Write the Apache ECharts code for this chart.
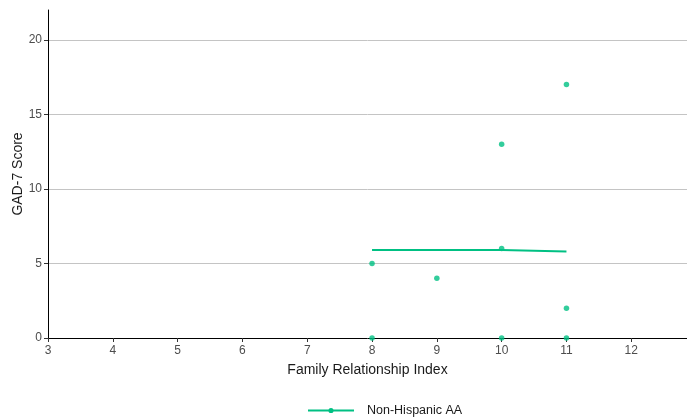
<!DOCTYPE html>
<html>
<head>
<meta charset="utf-8">
<script src="https://cdn.jsdelivr.net/npm/echarts@6/dist/echarts.min.js"></script>
<style>
  html, body { margin: 0; padding: 0; background: #fff; }
  #chart { width: 687px; height: 420px; }
</style>
</head>
<body>
<div id="chart"></div>
<script>
// Observed scores by Family Relationship Index
const pointX = [8, 8, 9, 10, 10, 10, 11, 11, 11];
const pointY = [0, 5, 4, 0, 6, 13, 0, 2, 17];
// Fitted trend segments
const fitX = [8, 10, 10, 11];
const fitY = [5.9, 5.9, 5.81, 5.81];
// Tick positions
const xTicks = [3, 4, 5, 6, 7, 8, 9, 10, 11, 12];
const yTicks = [0, 5, 10, 15, 20];
const seriesName = 'Non-Hispanic AA';
const green = '#00C083';

const chart = echarts.init(document.getElementById('chart'), null, { renderer: 'canvas' });
const font = 'Liberation Sans, Arial, sans-serif';

chart.setOption({
  animation: false,
  grid: { left: 48, right: 0, top: 10, bottom: 82, containLabel: false, outerBoundsMode: 'none' },
  legend: {
    top: 399,
    left: 303,
    itemWidth: 46,
    itemHeight: 10,
    icon: 'path://M0,4 L46,4 L46,6 L0,6 Z M23,2.4 A2.6,2.6 0 1 1 23,7.6 A2.6,2.6 0 1 1 23,2.4 Z',
    itemStyle: { color: green },
    textStyle: { fontFamily: font, fontSize: 12.5, color: '#1a1a1a', padding: [0, 0, 0, 8] },
    data: [seriesName]
  },
  xAxis: {
    type: 'value',
    min: 3, max: 12.86,
    name: 'Family Relationship Index',
    nameLocation: 'middle', nameGap: 25, nameMoveOverlap: false,
    nameTextStyle: { fontFamily: font, fontSize: 14, color: '#1a1a1a' },
    axisLine: { show: true, onZero: false, lineStyle: { color: '#000', width: 1 } },
    axisTick: { show: true, length: 4, customValues: xTicks, lineStyle: { color: '#333' } },
    axisLabel: { fontFamily: font, fontSize: 12, color: '#4d4d4d', margin: 7, customValues: xTicks },
    splitLine: { show: false }
  },
  yAxis: {
    type: 'value',
    min: 0, max: 22, interval: 5,
    name: 'GAD-7 Score',
    nameLocation: 'middle', nameGap: 23, nameMoveOverlap: false,
    nameTextStyle: { fontFamily: font, fontSize: 14, color: '#1a1a1a' },
    axisLine: { show: true, onZero: false, lineStyle: { color: '#000', width: 1 } },
    axisTick: { show: true, length: 4, customValues: yTicks, lineStyle: { color: '#333' } },
    axisLabel: { fontFamily: font, fontSize: 12, color: '#4d4d4d', margin: 6, customValues: yTicks },
    splitLine: { show: true, showMinLine: false, showMaxLine: true, lineStyle: { color: '#c4c4c4', width: 1 } }
  },
  series: [
    {
      name: seriesName,
      type: 'line',
      data: fitX.map((x, i) => [x, fitY[i]]),
      showSymbol: false,
      symbol: 'circle',
      itemStyle: { color: green },
      lineStyle: { color: green, width: 2 },
      z: 3
    },
    {
      name: seriesName,
      type: 'scatter',
      data: pointX.map((x, i) => [x, pointY[i]]),
      symbol: 'circle',
      symbolSize: 5.5,
      itemStyle: { color: green },
      z: 4
    }
  ]
});
</script>
</body>
</html>
